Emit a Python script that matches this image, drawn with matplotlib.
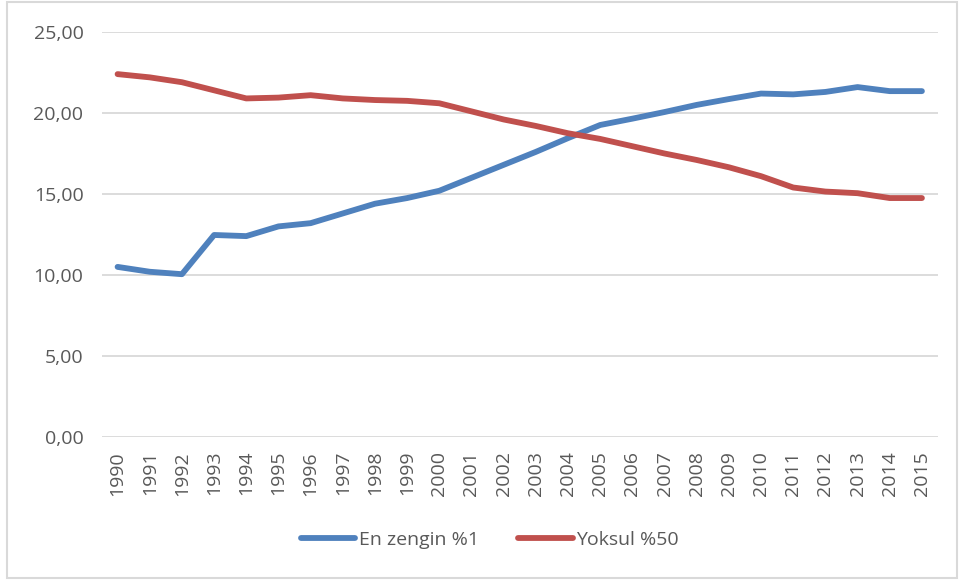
import matplotlib.pyplot as plt
from matplotlib.patches import Rectangle

plt.rcParams['font.family'] = ['Open Sans', 'DejaVu Sans']

years = list(range(1990, 2016))
en_zengin = [10.50, 10.20, 10.05, 12.47, 12.40, 13.00, 13.20, 13.80, 14.40, 14.75,
             15.20, 16.00, 16.80, 17.60, 18.45, 19.26, 19.65, 20.06, 20.50, 20.86,
             21.20, 21.15, 21.30, 21.60, 21.35, 21.35]
yoksul = [22.40, 22.20, 21.90, 21.40, 20.90, 20.95, 21.10, 20.90, 20.80, 20.75,
          20.60, 20.10, 19.60, 19.20, 18.75, 18.40, 17.95, 17.50, 17.10, 16.65,
          16.10, 15.40, 15.15, 15.05, 14.75, 14.75]
yticks = [0, 5, 10, 15, 20, 25]

W, H = 960, 583
fig = plt.figure(figsize=(W / 100, H / 100), dpi=100)
ax = fig.add_axes([101.5 / W, 1 - 437 / H, (938 - 101.5) / W, (437 - 32) / H])

x = range(len(years))
ax.plot(x, en_zengin, color='#4F81BD', lw=4.2, solid_capstyle='round', label='En zengin %1')
ax.plot(x, yoksul, color='#C0504D', lw=4.2, solid_capstyle='round', label='Yoksul %50')

ax.set_xlim(-0.5, len(years) - 0.5)
ax.set_ylim(0, 25)
ax.set_yticks(yticks)
ax.set_yticklabels([f"{v:.2f}".replace('.', ',') for v in yticks])
ax.set_xticks(list(x))
ax.set_xticklabels([str(y) for y in years], rotation=90)
ax.tick_params(axis='both', length=0, labelsize=14, colors='#595959')
ax.tick_params(axis='y', pad=13)
ax.tick_params(axis='x', pad=10)
ax.grid(axis='y', color='#D9D9D9', lw=1.3)
ax.set_axisbelow(True)
for s in ax.spines.values():
    s.set_visible(False)

fig.legend(loc='center', bbox_to_anchor=(490 / W, 1 - 540 / H), ncol=2, frameon=False,
           fontsize=14, handlelength=2.8, handletextpad=0.2, columnspacing=2.0,
           labelcolor='#595959')

fig.patches.append(Rectangle((7 / W, 1 - 578 / H), 950 / W, 576 / H, transform=fig.transFigure,
                             fill=False, edgecolor='#D9D9D9', lw=1.5))

fig.savefig('out.png', dpi=100)
